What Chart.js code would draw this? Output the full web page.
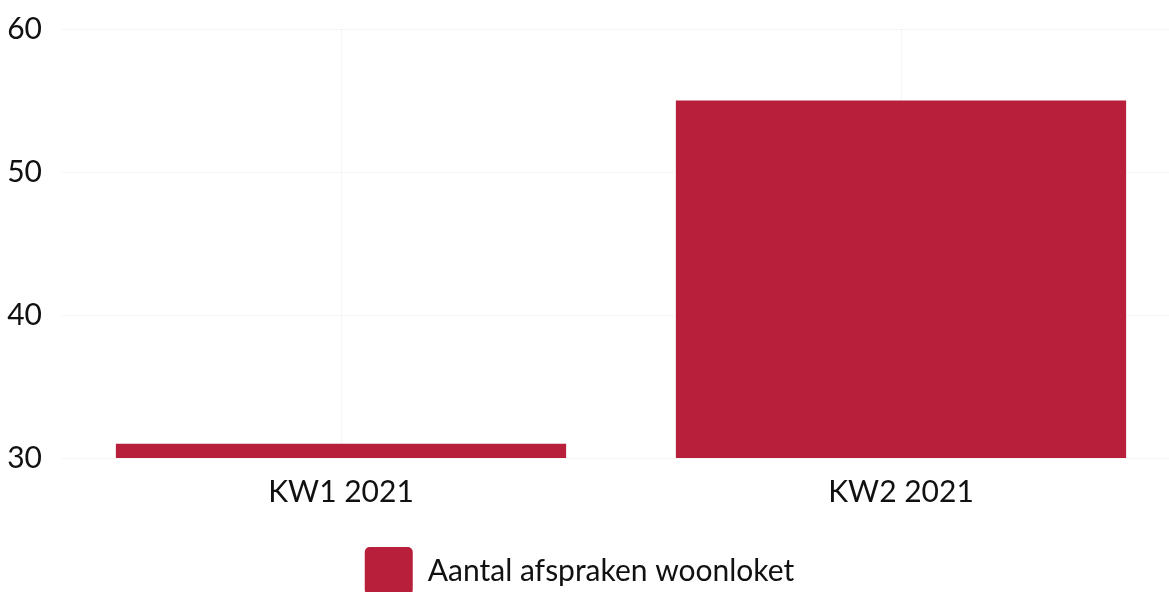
<!DOCTYPE html>
<html>
<head>
<meta charset="utf-8">
<script src="https://cdn.jsdelivr.net/npm/chart.js@4"></script>
<style>
html,body{margin:0;padding:0;background:#fff;overflow:hidden;width:1169px;height:592px;}
#wrap{position:relative;width:1181px;height:613px;margin-top:-8px;}
</style>
</head>
<body>
<div id="wrap"><canvas id="c"></canvas></div>
<script>
const categories = ["KW1 2021", "KW2 2021"];
const seriesName = "Aantal afspraken woonloket";
const values = [31, 55];
const yTicks = [30, 40, 50, 60];

const barColor = "#b71f3a";
Chart.defaults.font.family = "Lato";
Chart.defaults.color = "#111";

const legendShift = {
  id: "legendShift",
  afterLayout(chart) {
    const lg = chart.legend;
    if (lg) { lg.left -= 11; lg.right -= 11; }
  }
};

new Chart(document.getElementById("c"), {
  type: "bar",
  data: {
    labels: categories,
    datasets: [{
      label: seriesName,
      data: values,
      backgroundColor: barColor,
      borderWidth: 0,
      barPercentage: 0.804,
      categoryPercentage: 1
    }]
  },
  options: {
    responsive: true,
    maintainAspectRatio: false,
    animation: false,
    layout: { padding: { left: 0, right: 0, top: 6, bottom: 0 } },
    scales: {
      x: {
        offset: true,
        grid: { offset: false, color: "rgba(0,0,0,0.035)", drawTicks: false },
        border: { display: false },
        ticks: { font: { size: 30 }, color: "#111", padding: 16 }
      },
      y: {
        min: yTicks[0],
        max: yTicks[yTicks.length - 1],
        afterBuildTicks: (axis) => { axis.ticks = yTicks.map(v => ({ value: v })); },
        afterFit: (axis) => { axis.width = 61; },
        grid: { color: "rgba(0,0,0,0.035)", drawTicks: false },
        border: { display: false },
        ticks: { font: { size: 30 }, color: "#111", padding: 19 }
      }
    },
    plugins: {
      legend: {
        position: "bottom",
        labels: {
          font: { size: 30 },
          color: "#111",
          boxWidth: 48,
          boxHeight: 48,
          useBorderRadius: true,
          borderRadius: 5,
          padding: 21
        }
      },
      tooltip: { enabled: false }
    }
  },
  plugins: [legendShift]
});
</script>
</body>
</html>
